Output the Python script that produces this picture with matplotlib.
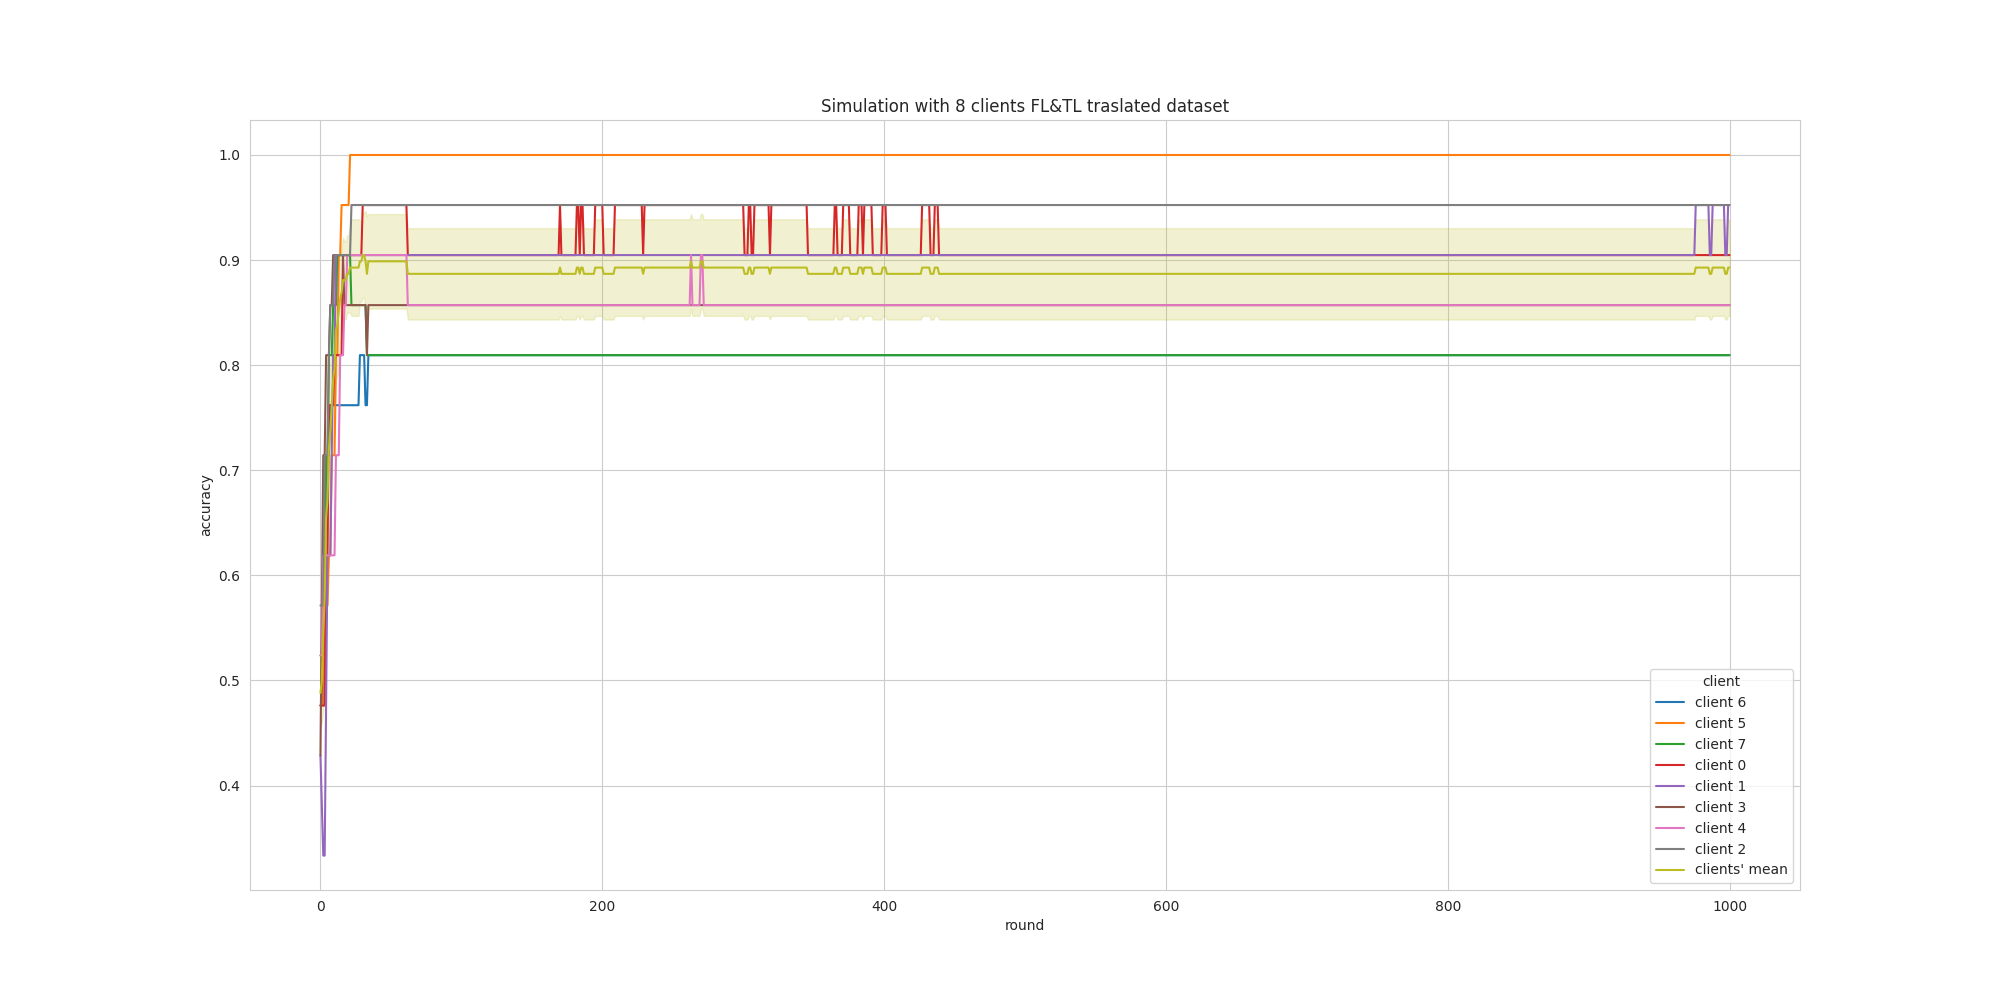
import numpy as np
import seaborn as sns
import matplotlib
matplotlib.use("Agg")
import matplotlib.pyplot as plt

#accuracy of each client per round as (first round, correct answers out of 21)
TEST_SIZE = 21
N_ROUNDS = 1001

client_6 = [(0, 10), (2, 12), (4, 15), (7, 16), (28, 17), (32, 16), (34, 17)]
client_5 = [(0, 10), (3, 12), (6, 13), (8, 15), (11, 17), (13, 19), (15, 20), (21, 21)]
client_7 = [(0, 11), (2, 13), (4, 15), (6, 17), (9, 18), (12, 19), (22, 18), (33, 17)]
client_0 = [(0, 10), (4, 13), (6, 16), (10, 17), (16, 19), (30, 20), (62, 19),
            (170, 20), (171, 19), (182, 20), (184, 19), (185, 20), (187, 19),
            (195, 20), (201, 19), (209, 20), (229, 19), (230, 20), (301, 19),
            (304, 20), (306, 19), (308, 20), (319, 19), (320, 20), (346, 19),
            (365, 20), (367, 19), (371, 20), (376, 19), (382, 20), (385, 19),
            (386, 20), (392, 19), (399, 20), (402, 19), (427, 20), (433, 19),
            (436, 20), (439, 19)]
client_1 = [(0, 9), (1, 8), (2, 7), (4, 10), (5, 13), (8, 15), (9, 17), (11, 19),
            (976, 20), (986, 19), (988, 20), (997, 19), (999, 20)]
client_3 = [(0, 9), (1, 12), (2, 15), (4, 17), (7, 18), (9, 19), (17, 18), (33, 17), (34, 18)]
client_4 = [(0, 11), (2, 13), (11, 15), (14, 17), (17, 18), (19, 19), (62, 18),
            (263, 19), (264, 18), (270, 19), (272, 18)]
client_2 = [(0, 12), (3, 15), (6, 17), (7, 18), (10, 19), (22, 20)]

client_names = ["client 6", "client 5", "client 7", "client 0",
                "client 1", "client 3", "client 4", "client 2"]
client_steps = [client_6, client_5, client_7, client_0,
                client_1, client_3, client_4, client_2]

y_limits = (0.3006, 1.0333)


def expand(steps):
    acc = np.zeros(N_ROUNDS)
    for i, (start, correct) in enumerate(steps):
        end = steps[i + 1][0] if i + 1 < len(steps) else N_ROUNDS
        acc[start:end] = correct / TEST_SIZE
    return acc


rounds = np.arange(N_ROUNDS)
accs = np.array([expand(s) for s in client_steps])

#mean over clients and 95% interval of the mean
mean = accs.mean(axis=0)
half = 1.96 * accs.std(axis=0) / np.sqrt(len(accs))

sns.set_style("whitegrid")
colors = plt.get_cmap("tab10").colors

fig, ax = plt.subplots(figsize=(20, 10), dpi=100)
for i, name in enumerate(client_names):
    ax.plot(rounds, accs[i], color=colors[i], linewidth=1.5, label=name)

ax.fill_between(rounds, mean - half, mean + half, color=colors[8], alpha=0.2)
ax.plot(rounds, mean, color=colors[8], linewidth=1.5, label="clients' mean")

ax.set_ylim(*y_limits)
ax.set_title("Simulation with 8 clients FL&TL traslated dataset")
ax.set_xlabel("round")
ax.set_ylabel("accuracy")
ax.legend(title="client", loc="lower right")

plt.savefig("out.png")
